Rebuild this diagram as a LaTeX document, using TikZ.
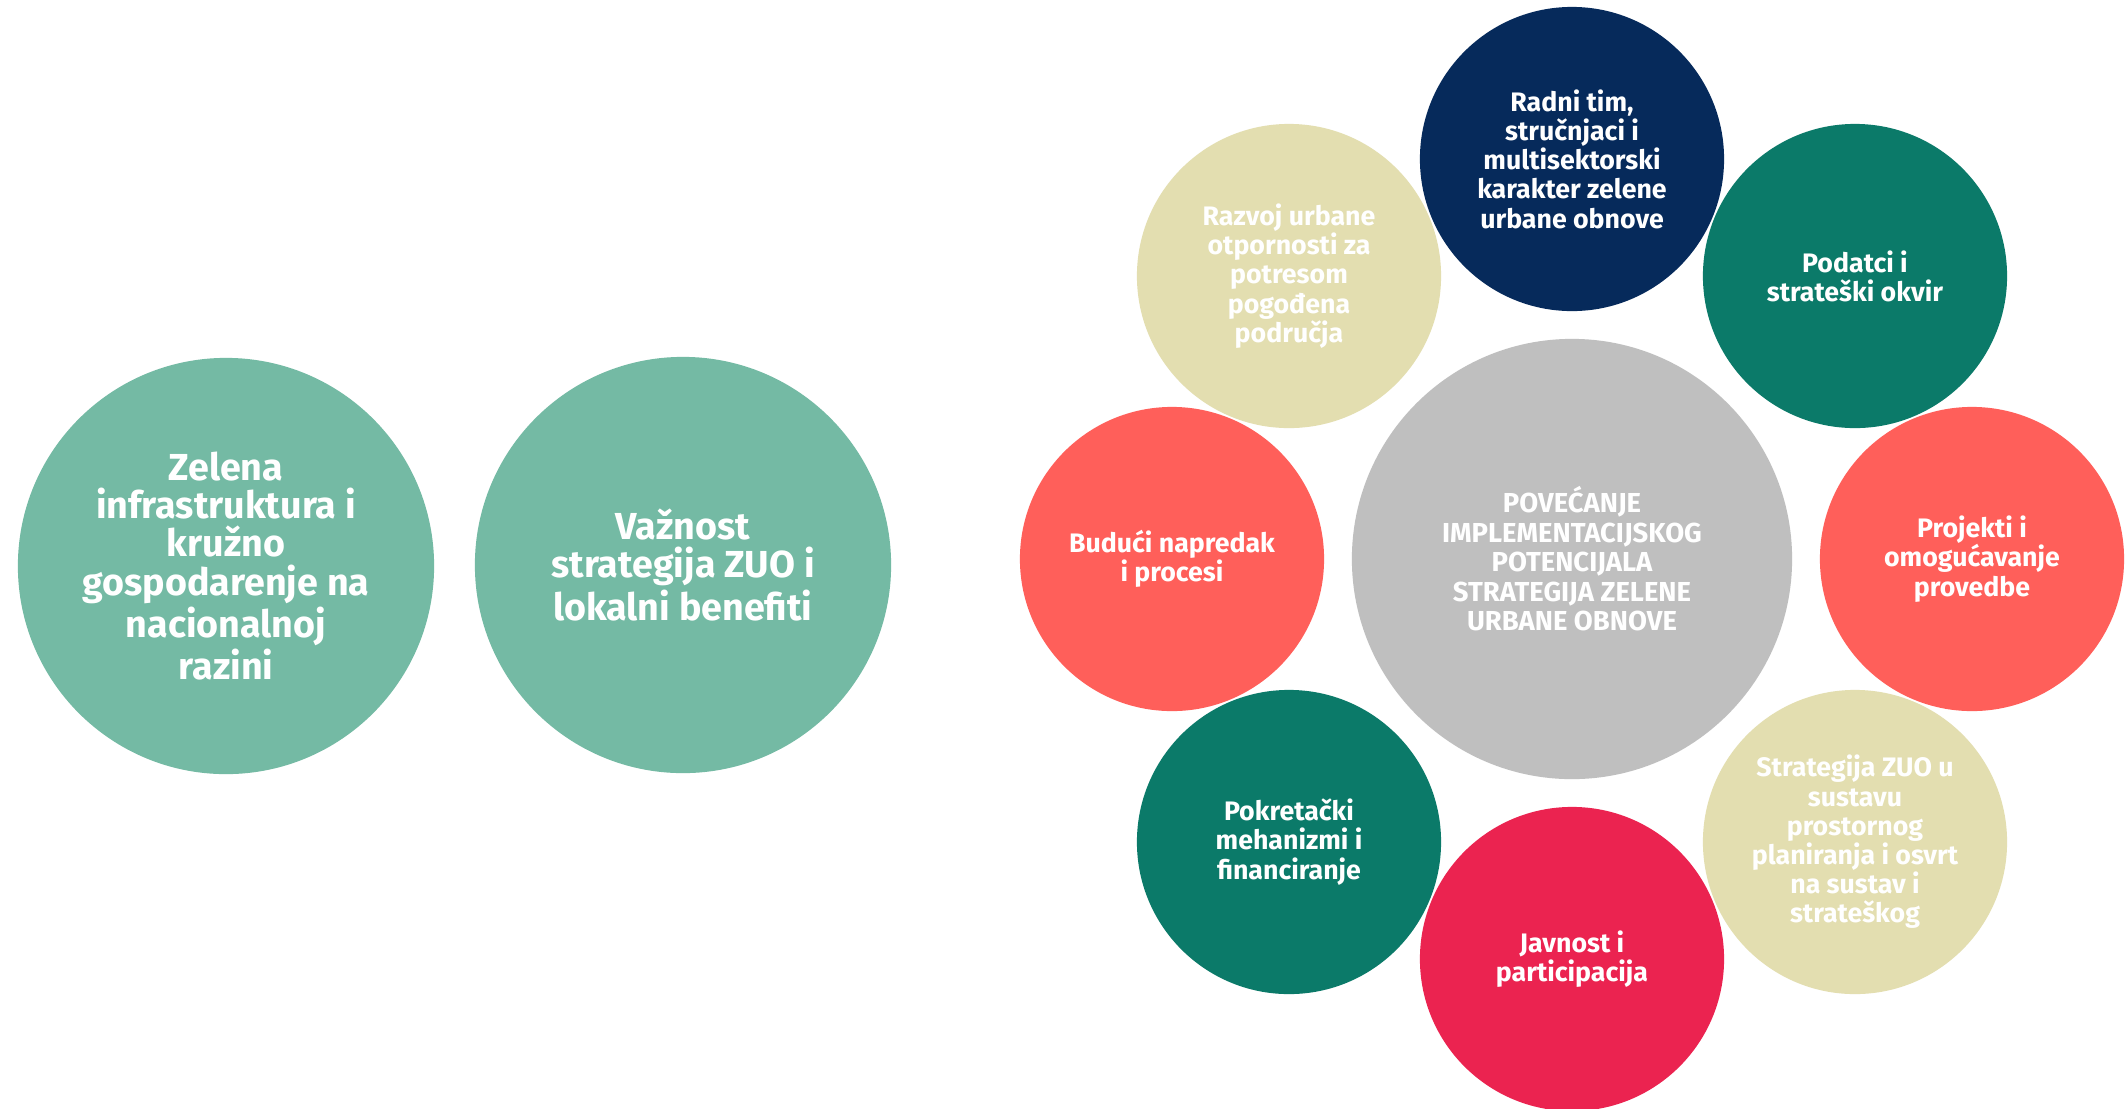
\documentclass[tikz,border=0pt]{standalone}
\usepackage{fontspec}
\setmainfont{Fira Sans}
\definecolor{mint}{HTML}{74BAA4}
\definecolor{navy}{HTML}{062A5B}
\definecolor{deepteal}{HTML}{0B7A69}
\definecolor{sand}{HTML}{E3DEB0}
\definecolor{coral}{HTML}{FF5F5A}
\definecolor{crimson}{HTML}{EB2350}
\definecolor{ash}{HTML}{BFBFBF}
\begin{document}
\begin{tikzpicture}[x=0.01cm, y=-0.01cm,
  bub/.style={circle, inner sep=0pt, minimum size=3.04cm, align=center, text=white,
    font=\fontsize{7.6}{8.3}\selectfont\bfseries},
  bigbub/.style={circle, inner sep=0pt, minimum size=4.16cm, fill=mint, align=center, text=white,
    font=\fontsize{10.7}{10.9}\selectfont\bfseries}]
\useasboundingbox (0,0) rectangle (2126,1108);
\fill[white] (0,0) rectangle (2126,1108);
\clip (0,0) rectangle (2126,1108);
% left pair
\node[bigbub] (zel) at (226,566){Zelena\\infrastruktura i\\kružno\\gospodarenje na\\nacionalnoj\\razini};
\node[bigbub] (vaz) at (683,565){Važnost\\strategija ZUO i\\lokalni benefiti};
% centre and ring
\node[circle, inner sep=0pt, minimum size=4.4cm, fill=ash, align=center, text=white,
  font=\fontsize{7.8}{8.4}\selectfont\bfseries] (pov) at (1572,559){POVEĆANJE\\IMPLEMENTACIJSKOG\\POTENCIJALA\\STRATEGIJA ZELENE\\URBANE OBNOVE};
\node[bub, fill=navy] (tim) at (1572,159){Radni tim,\\stručnjaci i\\multisektorski\\karakter zelene\\urbane obnove};
\node[bub, fill=deepteal] (pod) at (1855,276){Podatci i\\strateški okvir};
\node[bub, fill=coral] (pro) at (1972,559){Projekti i\\omogućavanje\\provedbe};
\node[bub, fill=sand] (str) at (1855,842){Strategija ZUO u\\sustavu\\prostornog\\planiranja i osvrt\\na sustav i\\strateškog};
\node[bub, fill=crimson] (jav) at (1572,959){Javnost i\\participacija};
\node[bub, fill=deepteal] (pok) at (1289,842){Pokretački\\mehanizmi i\\financiranje};
\node[bub, fill=coral] (bud) at (1172,559){Budući napredak\\i procesi};
\node[bub, fill=sand] (raz) at (1289,276){Razvoj urbane\\otpornosti za\\potresom\\pogođena\\područja};
\end{tikzpicture}
\end{document}
